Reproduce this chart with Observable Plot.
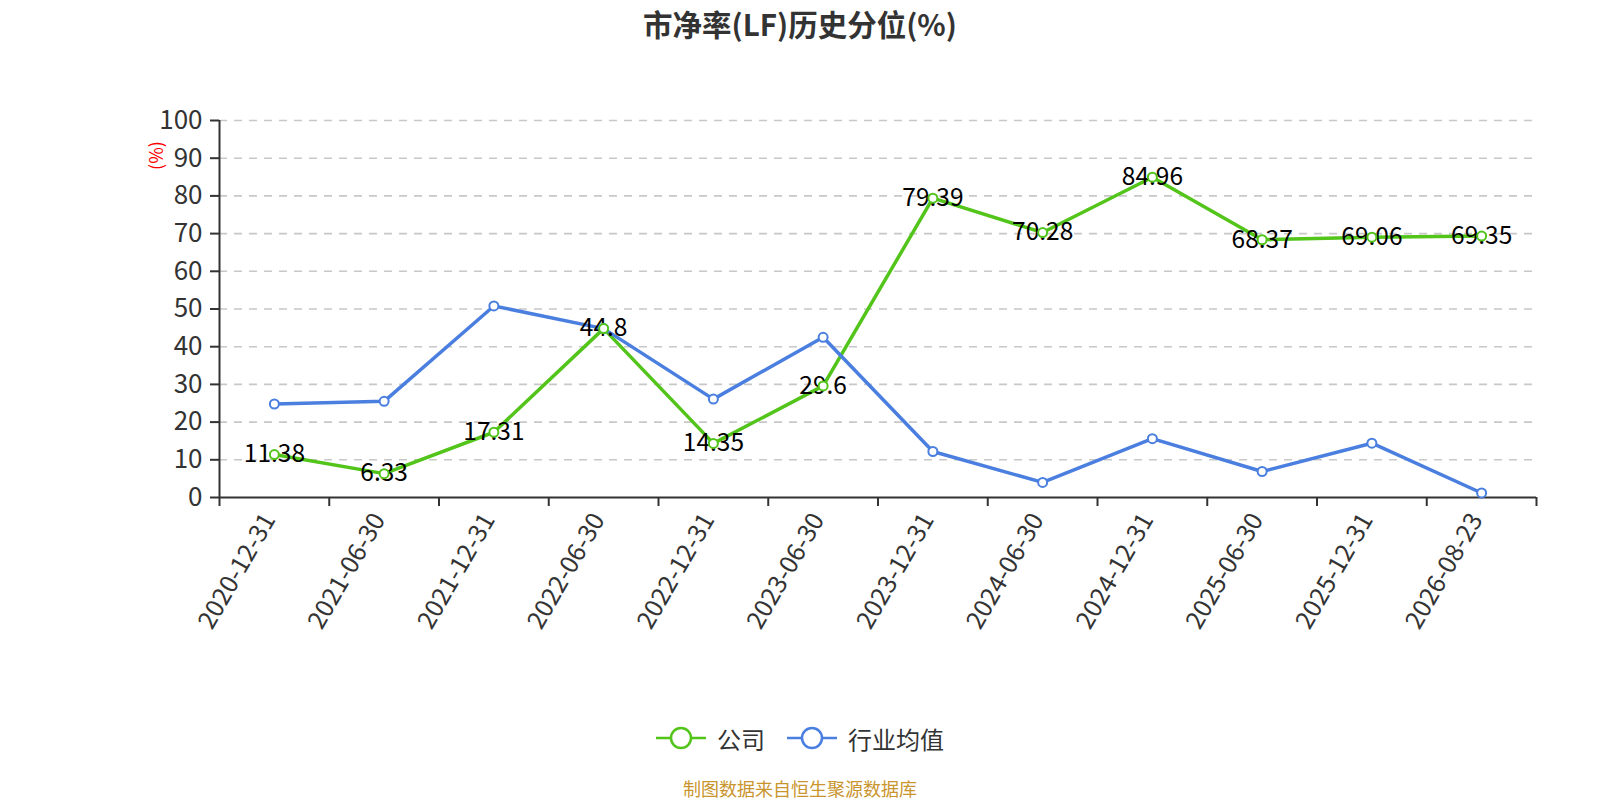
<!DOCTYPE html>
<html>
<head>
<meta charset="utf-8">
<script src="https://cdn.jsdelivr.net/npm/d3@7"></script>
<script src="https://cdn.jsdelivr.net/npm/@observablehq/plot@0.6"></script>
<style>
  body { margin: 0; background: #fff; font-family: "Noto Sans CJK SC", "Noto Sans", sans-serif; }
  #wrap { width: 1600px; height: 800px; position: relative; overflow: hidden; }
  #title { position: absolute; top: 0; left: 0; width: 1600px; height: 46px; line-height: 46px; text-align: center; font-size: 29.5px; font-weight: bold; color: #333; }
  #chart { position: absolute; top: 50px; left: 0; }
  #legend { position: absolute; top: 724px; left: 0; width: 1600px; height: 28px; display: flex; justify-content: center; align-items: center; font-size: 24px; color: #333; }
  #legend .item { display: flex; align-items: center; }
  #legend .item + .item { margin-left: 22px; }
  #legend svg { margin-right: 11px; }
  #footer { position: absolute; top: 775px; left: 0; width: 1600px; height: 26px; line-height: 26px; text-align: center; font-size: 18px; color: #c9952e; }
</style>
</head>
<body>
<div id="wrap">
  <div id="title">市净率(LF)历史分位(%)</div>
  <div id="chart"></div>
  <div id="legend"></div>
  <div id="footer">制图数据来自恒生聚源数据库</div>
</div>
<script>
const categories = ["2020-12-31","2021-06-30","2021-12-31","2022-06-30","2022-12-31","2023-06-30","2023-12-31","2024-06-30","2024-12-31","2025-06-30","2025-12-31","2026-08-23"];
const companyValues = [11.38, 6.33, 17.31, 44.8, 14.35, 29.6, 79.39, 70.28, 84.96, 68.37, 69.06, 69.35];
const industryValues = [24.8, 25.5, 50.8, 44.8, 26.1, 42.5, 12.2, 4.0, 15.6, 6.9, 14.4, 1.2];
const yTicks = [0, 10, 20, 30, 40, 50, 60, 70, 80, 90, 100];
const seriesNames = ["公司", "行业均值"];
const seriesColors = ["#52c41a", "#4a7fe0"];

const company = categories.map((c, i) => ({i, cat: c, v: companyValues[i]}));
const industry = categories.map((c, i) => ({i, cat: c, v: industryValues[i]}));
const boundaries = d3.range(categories.length + 1).map(k => k - 0.5);

const plot = Plot.plot({
  width: 1600,
  height: 640,
  marginTop: 70,
  marginBottom: 193,
  marginLeft: 219,
  marginRight: 64,
  style: {fontFamily: "'Noto Sans CJK SC', 'Noto Sans', sans-serif", background: "transparent", overflow: "visible"},
  x: {type: "linear", domain: [-0.5, categories.length - 0.5]},
  y: {domain: [0, 100]},
  marks: [
    Plot.gridY(yTicks.filter(t => t > 0), {stroke: "#c8c8c8", strokeOpacity: 1, strokeWidth: 1.6, strokeDasharray: "8,7"}),
    Plot.axisY({ticks: yTicks, tickSize: 9, tickPadding: 8, fontSize: 26, color: "#333", strokeWidth: 2, label: null, tickFormat: d => String(d)}),
    Plot.axisX({ticks: boundaries, tickSize: 9, tickFormat: () => "", label: null, color: "#333", strokeWidth: 2}),
    Plot.text(categories, {x: (d, i) => i, y: 0, text: d => d, rotate: -60, textAnchor: "end", lineAnchor: "middle", dx: -5, dy: 18, fontSize: 25, fill: "#333"}),
    Plot.ruleY([0], {stroke: "#333", strokeWidth: 2}),
    Plot.ruleX([-0.5], {stroke: "#333", strokeWidth: 2}),
    Plot.text(["(%)"], {frameAnchor: "top-left", textAnchor: "middle", lineAnchor: "middle", dx: -62, dy: 35, rotate: -90, fill: "red", fontSize: 18}),
    Plot.line(company, {x: "i", y: "v", stroke: seriesColors[0], strokeWidth: 3.5}),
    Plot.line(industry, {x: "i", y: "v", stroke: seriesColors[1], strokeWidth: 3.5}),
    Plot.text(company, {x: "i", y: "v", text: d => String(d.v), fontSize: 24.5, fill: "#000"}),
    Plot.dot(industry, {x: "i", y: "v", r: 4.5, fill: "#fff", stroke: seriesColors[1], strokeWidth: 2}),
    Plot.dot(company, {x: "i", y: "v", r: 4.5, fill: "#fff", stroke: seriesColors[0], strokeWidth: 2})
  ]
});
document.getElementById("chart").appendChild(plot);

const legend = document.getElementById("legend");
seriesNames.forEach((name, k) => {
  const item = document.createElement("div");
  item.className = "item";
  item.innerHTML = `<svg width="50" height="24" viewBox="0 0 50 24"><line x1="0" y1="12" x2="50" y2="12" stroke="${seriesColors[k]}" stroke-width="2.5"/><circle cx="25" cy="12" r="10" fill="#fff" stroke="${seriesColors[k]}" stroke-width="2.5"/></svg><span>${name}</span>`;
  legend.appendChild(item);
});
</script>
</body>
</html>
